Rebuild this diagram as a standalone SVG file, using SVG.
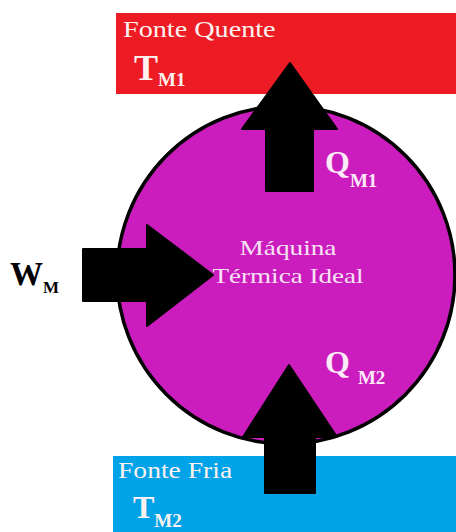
<svg xmlns="http://www.w3.org/2000/svg" width="456" height="532" viewBox="0 0 456 532">
<style>
.lbl{font-family:"Liberation Serif","Times New Roman",serif;fill:#fdf2f0}
.inner{fill:#f8e2f4}
.big{font-weight:bold}
.sym{font-family:"Liberation Serif","Times New Roman",serif;font-weight:bold}
.arrow{fill:#000;stroke:#000;stroke-width:2;stroke-linejoin:round}
</style>
<rect width="456" height="532" fill="#fff"/>
<g id="hot-source">
<rect x="116" y="13" width="340" height="81" fill="#ED1C24"/>
<text class="lbl" transform="translate(123,37) scale(1.2,1)" font-size="23.5">Fonte Quente</text>
<text class="lbl big" x="134" y="80" font-size="36">T<tspan font-size="19" dy="6">M1</tspan></text>
</g>
<g id="cold-source">
<rect x="113" y="456" width="343" height="76" fill="#00A2E8"/>
<text class="lbl" transform="translate(118,478) scale(1.2,1)" font-size="23">Fonte Fria</text>
<text class="lbl big" x="133" y="518" font-size="32">T<tspan font-size="19" dy="9">M2</tspan></text>
</g>
<g id="machine">
<circle cx="286" cy="275" r="169" fill="#CB1DBE" stroke="#000" stroke-width="3.5"/>
<text class="lbl inner" transform="translate(288,255) scale(1.24,1)" font-size="22" text-anchor="middle">Máquina</text>
<text class="lbl inner" transform="translate(288,283) scale(1.23,1)" font-size="22" text-anchor="middle">Térmica Ideal</text>
</g>
<g id="connectors">
<polygon class="arrow" points="290,63 337,129 313,129 313,191 266,191 266,129 242,129"/>
<polygon class="arrow" points="289,365 337,437 315,437 315,493 265,493 265,437 243,437"/>
<polygon class="arrow" points="213,275 147,326 147,301 83,301 83,249 147,249 147,225"/>
<text class="sym" x="10" y="285" font-size="33" fill="#000">W<tspan font-size="17" dy="8">M</tspan></text>
<text class="sym" x="325" y="173" font-size="32" fill="#fdeaf8">Q<tspan font-size="19" dy="14">M1</tspan></text>
<text class="sym" x="325" y="373" font-size="32" fill="#fdeaf8">Q<tspan font-size="19" dx="8" dy="11">M2</tspan></text>
</g>
</svg>
